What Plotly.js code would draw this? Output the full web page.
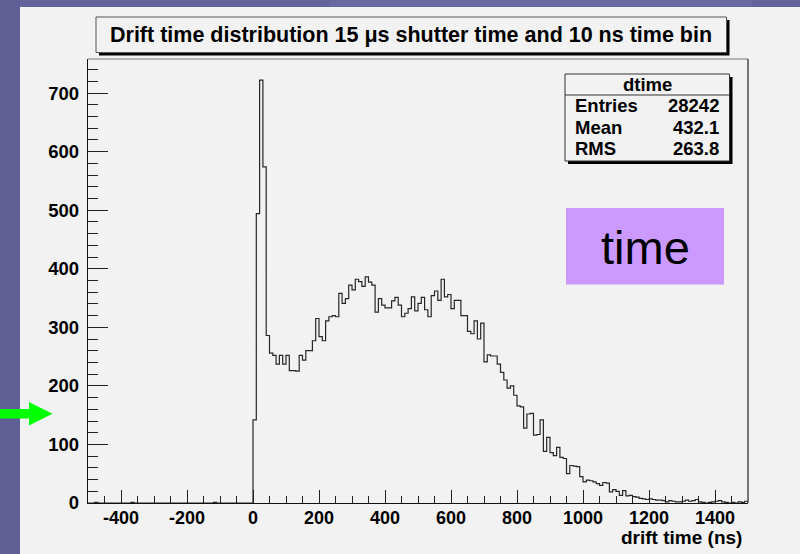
<!DOCTYPE html>
<html>
<head>
<meta charset="utf-8">
<script src="https://cdn.plot.ly/plotly-3.0.1.min.js"></script>
<style>
  html, body { margin: 0; padding: 0; background: #f2f2f2; }
  #chart { width: 800px; height: 554px; }
</style>
</head>
<body>
<div id="chart"></div>
<script>
// ---- Data ----
const histName = "dtime";
const titleText = "Drift time distribution 15 \u03bcs shutter time and 10 ns time bin";
const xAxisLabel = "drift time (ns)";
const binStart = -500;   // ns, low edge of first bin
const binWidth = 10;     // ns
// counts for -500 .. 0 ns (50 bins)
const countsNegative = [
  0,0,1,0,0,0,0,0,0,0,
  0,0,0,1,0,0,0,0,0,0,
  0,0,0,0,0,0,0,0,0,0,
  0,0,0,0,0,0,0,0,1,0,
  0,0,0,0,0,0,0,0,0,0
];
// counts for 0 .. 1500 ns (150 bins)
const countsPositive = [
  142,494,722,574,286,256,252,237,252,237,
  252,226,226,225,252,244,260,260,277,315,
  284,277,311,318,320,318,358,341,349,372,
  364,382,378,370,386,377,372,326,349,338,
  333,333,345,351,338,318,324,332,352,328,
  341,351,330,318,354,362,346,382,352,356,
  332,346,346,320,320,293,289,311,280,307,
  241,253,251,251,237,223,210,196,200,184,
  166,164,128,152,153,116,117,142,88,112,
  86,81,95,78,76,50,64,63,62,45,
  36,39,38,36,33,30,35,34,19,23,
  20,13,21,12,13,11,10,8,7,6,
  7,6,5,5,4,2,4,3,2,2,
  3,5,3,4,6,2,1,0,1,2,
  3,4,2,1,0,1,0,2,1,3
];
const statLabels = ["Entries", "Mean", "RMS"];
const statValues = ["28242", "432.1", "263.8"];
const boxLabel = "time";
const xTickVals = [-400, -200, 0, 200, 400, 600, 800, 1000, 1200, 1400];
const xTickText = ["-400", "-200", "0", "200", "400", "600", "800", "1000", "1200", "1400"];
const yTickVals = [0, 100, 200, 300, 400, 500, 600, 700];
const yTickText = ["0", "100", "200", "300", "400", "500", "600", "700"];

// ---- Build histogram outline ----
const counts = countsNegative.concat(countsPositive);
const edgesX = [], stepY = [];
for (let i = 0; i < counts.length; i++) {
  edgesX.push(binStart + i * binWidth);
  stepY.push(counts[i]);
}
edgesX.push(binStart + counts.length * binWidth);
stepY.push(counts[counts.length - 1]);
const xMax = binStart + counts.length * binWidth;
const yMax = Math.max(...counts) * 1.05;

// ---- pixel -> paper helpers ----
const W = 800, Hh = 554;
const mL = 88, mR = 52, mT = 59, mB = 51;
const pw = W - mL - mR, ph = Hh - mT - mB;
const px = x => (x - mL) / pw;
const py = y => (Hh - mB - y) / ph;

const FONT = "Liberation Sans, Arial, Helvetica, sans-serif";
const bold = (size) => ({family: FONT, size: size, color: "#000", weight: 700});

const shapes = [
  // slide background strips
  {type:"rect", xref:"paper", yref:"paper", x0:px(0), x1:px(800), y0:py(0), y1:py(7), fillcolor:"#64649a", line:{width:0}, layer:"below"},
  {type:"rect", xref:"paper", yref:"paper", x0:px(330), x1:px(752), y0:py(0), y1:py(7), fillcolor:"#6a6aa0", line:{width:0}, layer:"below"},
  {type:"rect", xref:"paper", yref:"paper", x0:px(0), x1:px(20), y0:py(0), y1:py(554), fillcolor:"#5f5f95", line:{width:0}, layer:"below"},
  // title box with shadow
  {type:"rect", xref:"paper", yref:"paper", x0:px(99), x1:px(729.5), y0:py(20), y1:py(55.5), fillcolor:"#000", line:{width:0}},
  {type:"rect", xref:"paper", yref:"paper", x0:px(96), x1:px(726.5), y0:py(17), y1:py(52.5), fillcolor:"#f2f2f2", line:{color:"#555", width:1}},
  // stats box with shadow
  {type:"rect", xref:"paper", yref:"paper", x0:px(568), x1:px(732.5), y0:py(77), y1:py(164), fillcolor:"#000", line:{width:0}},
  {type:"rect", xref:"paper", yref:"paper", x0:px(565), x1:px(729.5), y0:py(74), y1:py(161), fillcolor:"#f2f2f2", line:{color:"#333", width:1}},
  {type:"line", xref:"paper", yref:"paper", x0:px(565), x1:px(729.5), y0:py(95), y1:py(95), line:{color:"#333", width:1}},
  // purple label box
  {type:"rect", xref:"paper", yref:"paper", x0:px(566), x1:px(724), y0:py(208), y1:py(284.5), fillcolor:"#cc99ff", line:{width:0}},
  // frame top and right
  {type:"line", xref:"paper", yref:"paper", x0:0, x1:1, y0:1, y1:1, line:{color:"#777", width:1}},
  {type:"line", xref:"paper", yref:"paper", x0:1, x1:1, y0:0, y1:1, line:{color:"#222", width:1.2}},
  // green arrow
  {type:"path", xref:"paper", yref:"paper", fillcolor:"#00ff00", line:{width:0},
   path:"M "+px(0)+","+py(409)+" L "+px(29)+","+py(409)+" L "+px(29)+","+py(402)+" L "+px(52.5)+","+py(413.7)+
        " L "+px(29)+","+py(425.5)+" L "+px(29)+","+py(418.5)+" L "+px(0)+","+py(418.5)+" Z"}
];

const annotations = [
  {xref:"paper", yref:"paper", x:px(411), y:py(35), text:titleText, showarrow:false, xanchor:"center", yanchor:"middle", font:bold(21.5)},
  {xref:"paper", yref:"paper", x:px(744), y:py(537), text:xAxisLabel, showarrow:false, xanchor:"right", yanchor:"middle", font:bold(19)},
  {xref:"paper", yref:"paper", x:px(647), y:py(84.5), text:histName, showarrow:false, xanchor:"center", yanchor:"middle", font:bold(18.5)},
  {xref:"paper", yref:"paper", x:px(645), y:py(247), text:boxLabel, showarrow:false, xanchor:"center", yanchor:"middle", font:{family:FONT, size:47, color:"#000"}}
];
const rowY = [105.3, 127.3, 148.7];
statLabels.forEach((lab, i) => {
  annotations.push({xref:"paper", yref:"paper", x:px(573), y:py(rowY[i]), text:lab, showarrow:false, xanchor:"left", yanchor:"middle", font:bold(18.5)});
  annotations.push({xref:"paper", yref:"paper", x:px(721), y:py(rowY[i]), text:statValues[i], showarrow:false, xanchor:"right", yanchor:"middle", font:bold(18.5)});
});

const trace = {
  type: "scatter", mode: "lines", x: edgesX, y: stepY,
  line: {shape: "hv", color: "#262626", width: 1.2},
  hoverinfo: "skip", cliponaxis: true
};

const layout = {
  width: W, height: Hh,
  margin: {l: mL, r: mR, t: mT, b: mB, pad: 0},
  paper_bgcolor: "#f2f2f2", plot_bgcolor: "#f2f2f2",
  showlegend: false,
  xaxis: {
    range: [binStart, xMax], tickmode: "array", tickvals: xTickVals, ticktext: xTickText,
    ticks: "inside", ticklen: 13, tickwidth: 1, tickcolor: "#222",
    minor: {dtick: 50, tick0: 0, ticks: "inside", ticklen: 7, tickwidth: 1, tickcolor: "#222", showgrid: false},
    showgrid: false, zeroline: false, showline: true, linecolor: "#111", linewidth: 1.2,
    tickfont: bold(18), ticklabelstandoff: -2, fixedrange: true
  },
  yaxis: {
    range: [0, yMax], tickmode: "array", tickvals: yTickVals, ticktext: yTickText,
    ticks: "inside", ticklen: 20, tickwidth: 1, tickcolor: "#222",
    minor: {dtick: 20, tick0: 0, ticks: "inside", ticklen: 10, tickwidth: 1, tickcolor: "#222", showgrid: false},
    showgrid: false, zeroline: false, showline: true, linecolor: "#111", linewidth: 1.2,
    tickfont: bold(18.5), ticklabelstandoff: 4, fixedrange: true
  },
  shapes: shapes,
  annotations: annotations
};

Plotly.newPlot("chart", [trace], layout, {displayModeBar: false, staticPlot: true});
</script>
</body>
</html>
